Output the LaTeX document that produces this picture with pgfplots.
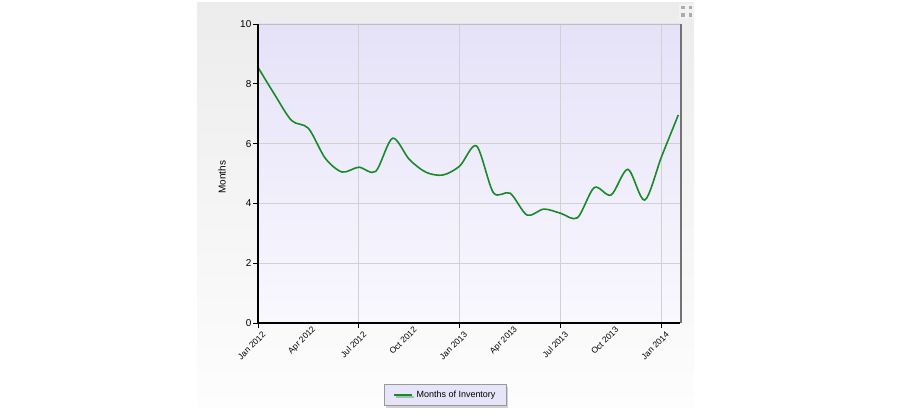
\documentclass[border=0pt]{standalone}
\usepackage{fontspec}
\setmainfont{Liberation Sans}
\usepackage{pgfplots}
\pgfplotsset{compat=1.18}
\usetikzlibrary{shadows}

\definecolor{panelTop}{RGB}{236,236,236}
\definecolor{panelBot}{RGB}{253,253,253}
\definecolor{plotTop}{RGB}{229,226,248}
\definecolor{plotBot}{RGB}{249,248,254}
\definecolor{lineGreen}{RGB}{24,138,40}
\definecolor{legendFill}{RGB}{230,228,248}

\begin{document}
\begin{tikzpicture}[x=1bp,y=1bp]
\path (0,0) rectangle (913,417);
\shade[top color=panelTop,bottom color=panelBot] (197,10) rectangle (694,414);
% expand icon
\fill[gray!10] (679,398) rectangle (694,413);
\fill[gray!65] (681,407.5) rectangle ++(3.5,3.5);
\fill[gray!65] (688.5,407.5) rectangle ++(3.5,3.5);
\fill[gray!65] (681,400) rectangle ++(3.5,3.5);
\fill[gray!65] (688.5,400) rectangle ++(3.5,3.5);
\begin{axis}[
  at={(258bp,94bp)}, anchor=south west,
  scale only axis, width=422bp, height=299bp,
  xmin=0, xmax=25.1, ymin=0, ymax=10,
  clip=false,
  axis background/.style={top color=plotTop, bottom color=plotBot},
  axis line style={draw=none},
  xtick={0,6,12,18,24},
  xticklabels={Jan 2012,Jul 2012,Jan 2013,Jul 2013,Jan 2014},
  extra x ticks={3,9,15,21},
  extra x tick labels={Apr 2012,Oct 2012,Apr 2013,Oct 2013},
  extra x tick style={major tick length=0pt, grid=none},
  ytick={0,2,...,10},
  tick pos=left, tick align=outside, major tick length=5bp,
  tick style={black, line width=0.8bp},
  grid=major,
  major grid style={draw=black!18, line width=0.9bp},
  x tick label style={rotate=45, anchor=east, font=\fontsize{8.5}{9}\selectfont,
    inner sep=0.5bp, yshift=-8bp, xshift=1bp},
  y tick label style={font=\fontsize{10}{11}\selectfont, inner sep=1.5bp},
  /pgf/number format/assume math mode=true,
  ylabel={Months},
  ylabel style={at={(axis description cs:-0.085,0.488)}, anchor=center, font=\fontsize{10}{11}\selectfont},
  legend style={at={(axis description cs:0.444,-0.241)}, anchor=center,
    fill=legendFill, draw=gray!80, drop shadow={opacity=0.35, shadow xshift=2bp, shadow yshift=-2bp},
    font=\fontsize{9}{10}\selectfont, inner xsep=9bp, inner ysep=4.5bp},
  legend image code/.code={\draw[#1, line width=1.4bp] (0bp,0bp) -- (18bp,0bp);},
]
\addplot[color=lineGreen, line width=1.6bp, smooth] coordinates {
  (0,8.55) (1,7.63) (2,6.77) (3,6.51) (4,5.51) (5,5.05) (6,5.21) (7,5.07)
  (8,6.18) (9,5.47) (10,5.04) (11,4.95) (12,5.25) (13,5.92) (14,4.36)
  (15,4.34) (16,3.61) (17,3.81) (18,3.67) (19,3.52) (20,4.53) (21,4.28)
  (22,5.14) (23,4.11) (24,5.56) (25,6.96)
};
\addlegendentry{\hspace{2bp}Months of Inventory\hspace{9bp}}
\draw[black!25, line width=0.8bp] (rel axis cs:0,1) -- (rel axis cs:1,1);
\draw[black!55, line width=2bp] ([xshift=1bp]rel axis cs:1,0) -- ([xshift=1bp]rel axis cs:1,1);
\draw[black, line width=1.2bp] (rel axis cs:0,1) -- (rel axis cs:0,0) -- (rel axis cs:1,0);
\end{axis}
\end{tikzpicture}
\end{document}
